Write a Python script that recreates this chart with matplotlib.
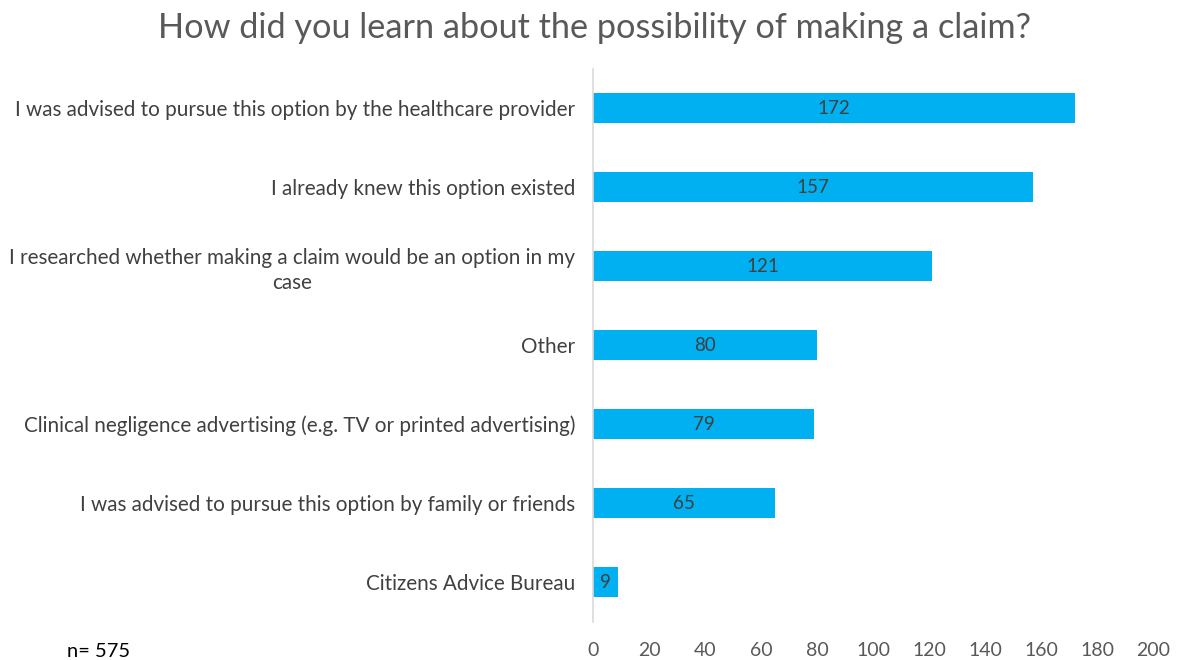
import matplotlib.pyplot as plt

plt.rcParams['font.family'] = ['Lato', 'DejaVu Sans']

# Survey answers, top to bottom
categories = [
    "I was advised to pursue this option by the healthcare provider",
    "I already knew this option existed",
    "I researched whether making a claim would be an option in my\ncase",
    "Other",
    "Clinical negligence advertising (e.g. TV or printed advertising)",
    "I was advised to pursue this option by family or friends",
    "Citizens Advice Bureau",
]
counts = [172, 157, 121, 80, 79, 65, 9]
x_ticks = [0, 20, 40, 60, 80, 100, 120, 140, 160, 180, 200]
n_total = 575

bar_color = "#00B0F0"
text_color = "#404040"

fig = plt.figure(figsize=(11.82, 6.6), dpi=100)
ax = fig.add_axes([0.5017, 0.0583, 0.4738, 0.8379])

ypos = list(range(len(categories)))
bars = ax.barh(ypos, counts, height=0.39, color=bar_color)
ax.set_ylim(len(categories) - 0.5, -0.5)
ax.set_xlim(0, 200)

for b, v in zip(bars, counts):
    ax.text(b.get_width() / 2, b.get_y() + b.get_height() / 2, str(v),
            ha="center", va="center", fontsize=13.5, color=text_color)

ax.set_yticks(ypos)
ax.set_yticklabels(categories, fontsize=14.9, color=text_color)
for lbl in ax.get_yticklabels():
    lbl.set_multialignment("center")
    lbl.set_linespacing(1.3)
ax.set_xticks(x_ticks)
ax.set_xticklabels([str(t) for t in x_ticks], fontsize=14, color="#595959")
ax.tick_params(axis="both", length=0)
ax.tick_params(axis="y", pad=13)
ax.tick_params(axis="x", pad=15)

for side in ["top", "right", "bottom"]:
    ax.spines[side].set_visible(False)
ax.spines["left"].set_color("#d9d9d9")
ax.spines["left"].set_linewidth(1.2)

fig.text(0.503, 0.957, "How did you learn about the possibility of making a claim?",
         ha="center", va="center", fontsize=24.7, color="#595959")
fig.text(0.057, 0.0, f"n= {n_total}", ha="left", va="bottom",
         fontsize=14.5, color="black")

fig.savefig("out.png", dpi=100)
